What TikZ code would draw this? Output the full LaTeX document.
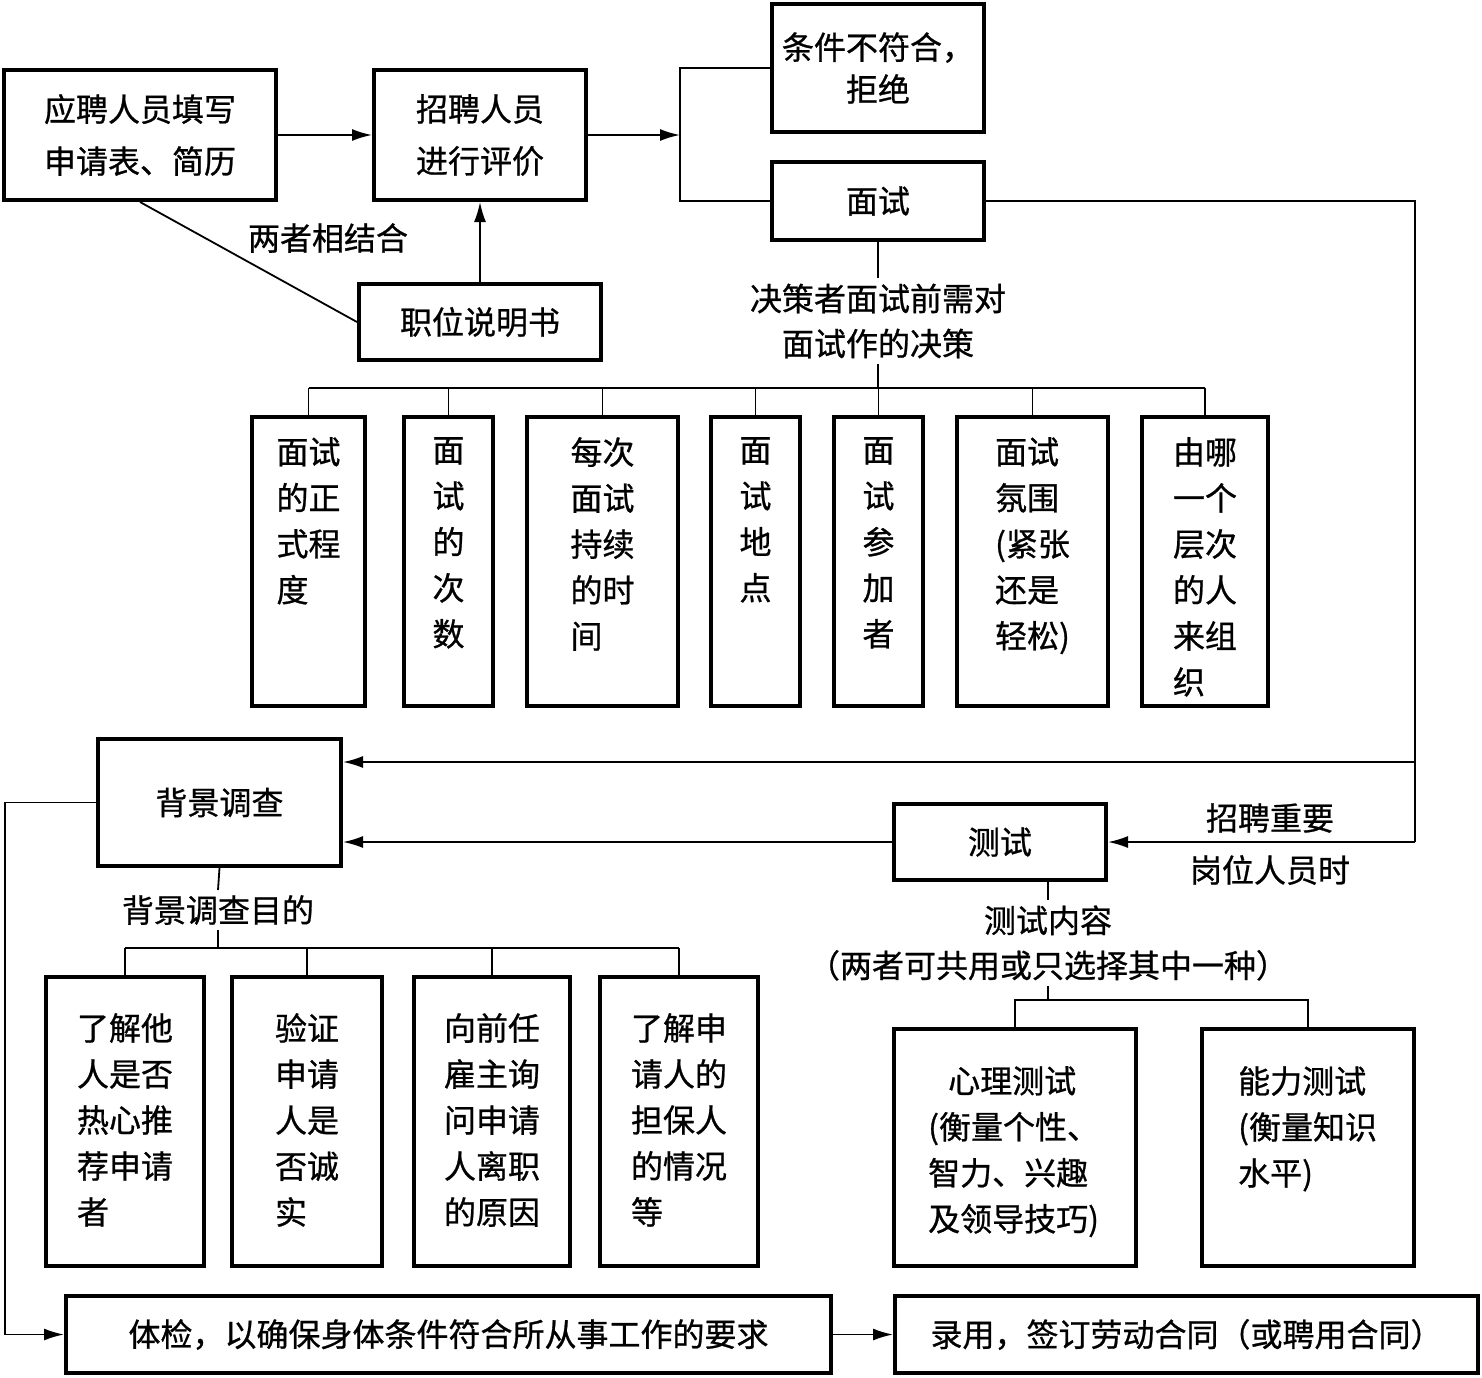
\documentclass[tikz,border=0pt]{standalone}
\usepackage{fontspec}
\newfontfamily\cjk[FakeBold=0.8]{Noto Sans CJK SC}
\newcommand\cf[1]{\cjk\fontsize{32}{#1}\selectfont}
\usetikzlibrary{arrows.meta}
\begin{document}
\begin{tikzpicture}[x=1pt,y=-1pt,
  box/.style={draw, line width=4pt, inner sep=0pt, align=center, font={\cf{52}}},
  conn/.style={line width=1.8pt},
  arr/.style={conn, -{Latex[length=20pt,width=12pt]}},
  txt/.style={inner sep=0pt, align=left, font={\cf{46}}},
  lbl/.style={inner sep=5pt, align=center, font={\cf{45}}}
]
\useasboundingbox (0,0) rectangle (1482,1377);
% top row
\node[box, minimum width=272pt, minimum height=130pt] (A) at (140,135) {应聘人员填写\\申请表、简历};
\node[box, minimum width=212pt, minimum height=130pt] (B) at (480,135) {招聘人员\\进行评价};
\node[box, minimum width=212pt, minimum height=128pt, font={\cf{42}}] (C) at (878,68) {条件不符合，\\拒绝};
\node[box, minimum width=212pt, minimum height=78pt] (D) at (878,201) {面试};
\node[box, minimum width=242pt, minimum height=76pt] (E) at (480,322) {职位说明书};
\node[lbl, inner sep=0pt] (comb) at (328,238) {两者相结合};
\coordinate (split) at (680,135);
\draw[arr] (A.east) -- (B.west);
\draw[arr] (B.east) -- (split);
\draw[conn] (C.west) -- (C.west -| split) -- (D.west -| split) -- (D.west);
\draw[arr] (E.north) -- (B.south);
\draw[conn] (A.south) -- (E.west);
% decision
\node[lbl] (dl) at (878,321) {决策者面试前需对\\面试作的决策};
\draw[conn] (D.south) -- (dl.north);
\coordinate (bus1) at (878,388);
\draw[conn] (dl.south) -- (bus1);
\foreach \n/\cx/\w/\t in {t1/308.5/113/{面试\\的正\\式程\\度},
  t2/448.5/89/{面\\试\\的\\次\\数},
  t3/602.5/151/{每次\\面试\\持续\\的时\\间},
  t4/755.5/89/{面\\试\\地\\点},
  t5/878.5/89/{面\\试\\参\\加\\者},
  t6/1032.5/151/{面试\\氛围\\(紧张\\还是\\轻松)},
  t7/1205/126/{由哪\\一个\\层次\\的人\\来组\\织}} {
  \node[box, minimum width=\w pt, minimum height=289pt] (\n) at (\cx,561.5) {};
  \node[txt, anchor=north] at (\cx,437) {\t};
  \draw[conn] (\n.north) -- (\n.north |- bus1);
}
\draw[conn] (t1.north |- bus1) -- (t7.north |- bus1);
% right loop
\coordinate (r0) at (1415,201);
\coordinate (r1) at (1415,762);
\coordinate (r2) at (1415,842);
\node[box, minimum width=243pt, minimum height=127pt] (F) at (219.5,802.5) {背景调查};
\node[box, minimum width=212pt, minimum height=76pt] (G) at (1000,842) {测试};
\draw[conn] (D.east) -- (r0) -- (r2);
\draw[arr] (r2) -- (G.east);
\draw[arr] (r1) -- (r1 -| F.east);
\draw[arr] (G.west) -- (G.west -| F.east);
\node[lbl, inner sep=0pt] (imp1) at (1270,818) {招聘重要};
\node[lbl, inner sep=0pt] (imp2) at (1270,870) {岗位人员时};
% tests
\node[lbl] (tl) at (1048,943) {测试内容\\（两者可共用或只选择其中一种）};
\coordinate (bus3) at (1048,1000);
\draw[conn] (tl.north |- G.south) -- (tl.north);
\draw[conn] (tl.south) -- (bus3);
\node[box, minimum width=242pt, minimum height=237pt] (H) at (1015,1147.5) {};
\node[box, minimum width=212pt, minimum height=237pt] (I) at (1308,1147.5) {};
\node[txt, anchor=north west] at (928,1066) {\hspace*{20pt}心理测试\\(衡量个性、\\智力、兴趣\\及领导技巧)};
\node[txt, anchor=north west] at (1238,1066) {能力测试\\(衡量知识\\水平)};
\draw[conn] (H.north) -- (H.north |- bus3) -- (I.north |- bus3) -- (I.north);
% background purposes
\node[lbl] (bl) at (218,910) {背景调查目的};
\coordinate (bus2) at (218,948);
\draw[conn] (F.south) -- (bl.north);
\draw[conn] (bl.south) -- (bus2);
\foreach \n/\cx/\w/\t in {s1/125/158/{了解他\\人是否\\热心推\\荐申请\\者},
  s2/307/150/{验证\\申请\\人是\\否诚\\实},
  s3/492/156/{向前任\\雇主询\\问申请\\人离职\\的原因},
  s4/679/158/{了解申\\请人的\\担保人\\的情况\\等}} {
  \node[box, minimum width=\w pt, minimum height=289pt] (\n) at (\cx,1121.5) {};
  \node[txt, anchor=north] at (\cx,1013) {\t};
  \draw[conn] (\n.north) -- (\n.north |- bus2);
}
\draw[conn] (s1.north |- bus2) -- (s4.north |- bus2);
% bottom
\node[box, minimum width=765pt, minimum height=77pt] (J) at (448.5,1334.5) {体检，以确保身体条件符合所从事工作的要求};
\node[box, minimum width=583pt, minimum height=77pt] (K) at (1186.5,1334.5) {录用，签订劳动合同（或聘用合同）};
\coordinate (l0) at (5,802.5);
\draw[conn] (F.west) -- (l0) -- (l0 |- J.west);
\draw[arr] (l0 |- J.west) -- (J.west);
\draw[arr] (J.east) -- (K.west);
\end{tikzpicture}
\end{document}
